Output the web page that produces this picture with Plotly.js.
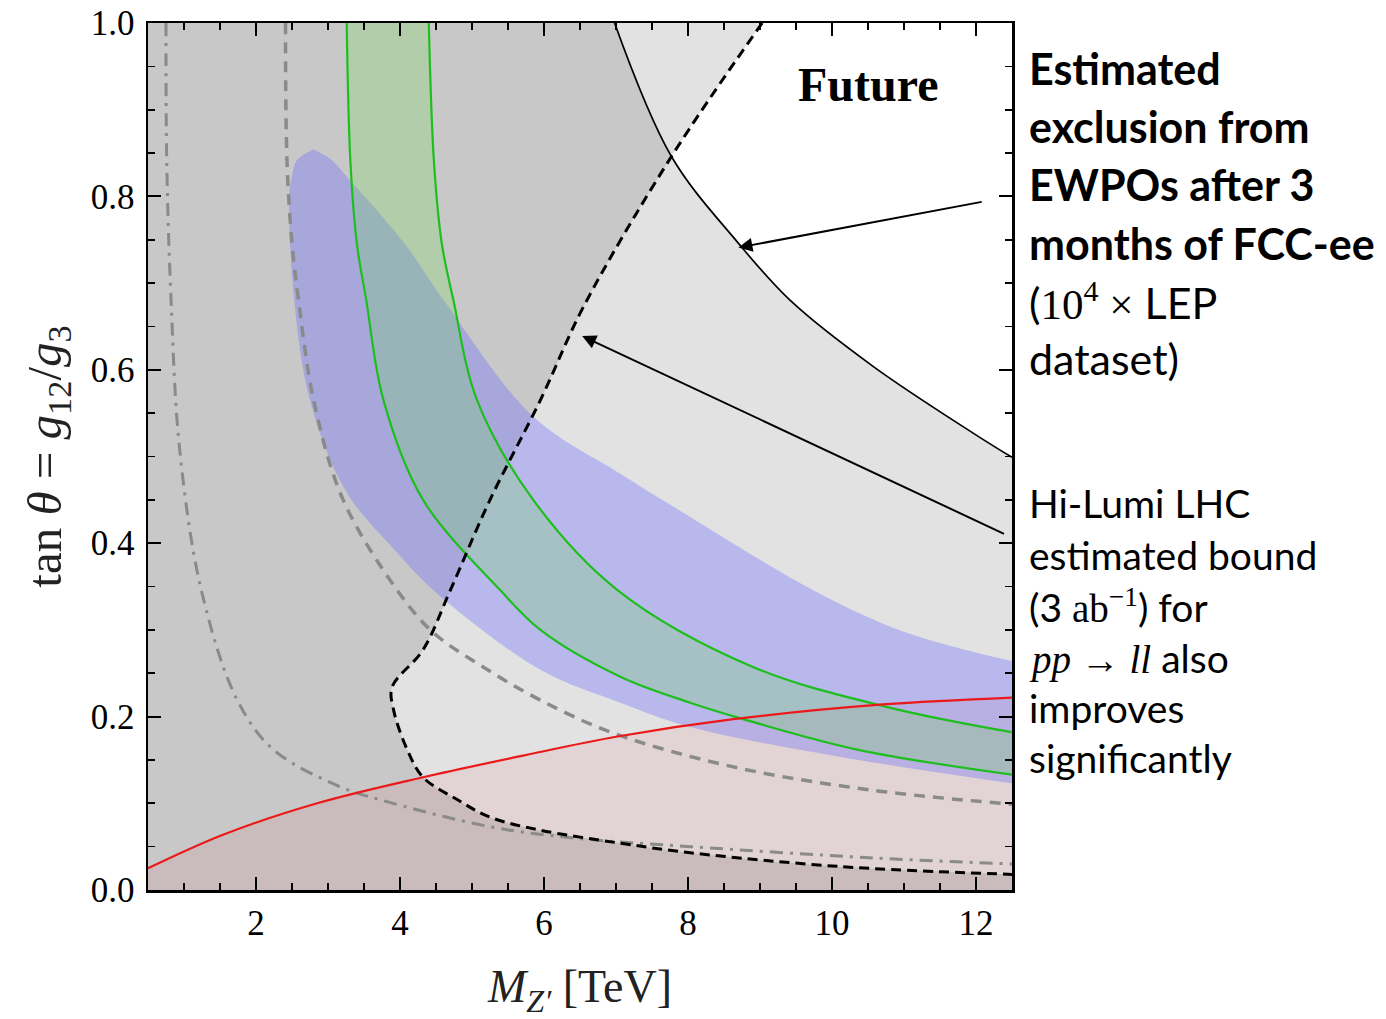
<!DOCTYPE html>
<html><head><meta charset="utf-8">
<script src="https://cdn.plot.ly/plotly-3.0.1.min.js"></script>
<style>body{margin:0;background:#fff}#plot{width:1386px;height:1019px}</style>
</head><body><div id="plot"></div>
<script>
// ---- axis ranges / ticks ----
const xRange = [0.5, 12.5];
const yRange = [0, 1];
const xTicks = [2, 4, 6, 8, 10, 12];
const yTicks = [0, 0.2, 0.4, 0.6, 0.8, 1.0];
const yTickText = ['0.0', '0.2', '0.4', '0.6', '0.8', '1.0'];

// ---- FCC-ee future EWPO bound (solid black) ----
const fccX = [6.98, 7.77, 8.69, 9.42, 10.57, 11.96, 12.5];
const fccY = [1.0, 0.846, 0.747, 0.680, 0.604, 0.527, 0.499];

// ---- Hi-Lumi LHC bound (black dashed) ----
const hlX = [9.03, 7.77, 6.55, 5.95, 5.25, 4.70, 4.32, 3.89, 3.91, 4.10, 4.32, 4.80, 5.25, 5.95, 7.06, 8.03, 10.12, 12.5];
const hlY = [1.0, 0.846, 0.673, 0.565, 0.45, 0.346, 0.277, 0.234, 0.208, 0.162, 0.130, 0.104, 0.084, 0.069, 0.054, 0.043, 0.027, 0.018];

// ---- gray dashed ----
const gdX = [2.41, 2.43, 2.50, 2.59, 2.80, 3.21, 3.96, 4.46, 5.16, 5.95, 6.96, 8.63, 10.57, 12.5];
const gdY = [1.0, 0.842, 0.746, 0.681, 0.565, 0.45, 0.346, 0.297, 0.257, 0.219, 0.181, 0.142, 0.115, 0.099];

// ---- gray dash-dot ----
const ddX = [0.75, 0.76, 0.82, 0.94, 1.24, 1.74, 2.24, 3.17, 3.73, 5.25, 6.41, 8.03, 10.57, 12.5];
const ddY = [1.0, 0.842, 0.681, 0.508, 0.346, 0.219, 0.162, 0.119, 0.104, 0.073, 0.060, 0.050, 0.037, 0.030];

// ---- red bound ----
const redX = [0.5, 1.55, 2.85, 4.32, 5.71, 7.02, 8.63, 10.71, 12.5];
const redY = [0.025, 0.064, 0.100, 0.130, 0.155, 0.177, 0.197, 0.214, 0.222];

// ---- green band ----
const glX = [3.26, 3.31, 3.40, 3.53, 3.77, 4.32, 5.39, 5.95, 7.06, 8.03, 8.73, 10.35, 12.5];
const glY = [1.0, 0.842, 0.746, 0.681, 0.565, 0.45, 0.346, 0.30, 0.246, 0.216, 0.198, 0.162, 0.133];
const grX = [4.40, 4.47, 4.58, 4.74, 5.07, 5.85, 7.02, 8.91, 10.77, 12.5];
const grY = [1.0, 0.842, 0.746, 0.681, 0.565, 0.45, 0.346, 0.257, 0.211, 0.182];

// ---- blue band (upper edge, and left/lower edge from the tip) ----
const blueUpX = [2.80, 3.05, 3.26, 4.05, 4.60, 5.85, 7.06, 7.80, 9.76, 11.0, 12.5];
const blueUpY = [0.854, 0.842, 0.823, 0.747, 0.681, 0.546, 0.480, 0.442, 0.345, 0.298, 0.264];
const blueLoX = [2.80, 2.57, 2.50, 2.46, 2.53, 2.75, 3.25, 3.95, 4.50, 5.95, 7.06, 8.03, 10.12, 12.5];
const blueLoY = [0.854, 0.842, 0.823, 0.80, 0.681, 0.565, 0.46, 0.390, 0.343, 0.254, 0.216, 0.188, 0.1535, 0.123];

// ---- arrows (tail -> tip) ----
const arrowTailX = [12.10, 12.41];
const arrowTailY = [0.794, 0.410];
const arrowTipX = [8.70, 6.53];
const arrowTipY = [0.741, 0.639];

// ---- text ----
const serif = 'Liberation Serif, Times New Roman, serif';
const sans = 'Lato, Carlito, Calibri, sans-serif';
const topLines = [
  '<b>Estimated</b>',
  '<b>exclusion from</b>',
  '<b>EWPOs after 3</b>',
  '<b>months of FCC-ee</b>',
  '(<span style="font-family:Liberation Serif">10<sup>4</sup> ×</span> LEP',
  'dataset)'
];
const botLines = [
  'Hi-Lumi LHC',
  'estimated bound',
  '(3 <span style="font-family:Liberation Serif">ab<sup>−1</sup></span>) for',
  '<span style="font-family:Liberation Serif"><i>pp</i> → <i>ll</i></span> also',
  'improves',
  'significantly'
];

const GRAY = 'rgba(0,0,0,0.115)';
const traces = [];
const base = {hoverinfo: 'skip', showlegend: false, type: 'scatter'};

// gray exclusion fills
traces.push(Object.assign({}, base, {x: fccX, y: fccY, mode: 'lines', line: {width: 0, shape: 'spline'}, fill: 'tozeroy', fillcolor: GRAY}));
traces.push(Object.assign({}, base, {x: hlX, y: hlY, mode: 'lines', line: {width: 0, shape: 'spline'}, fill: 'tozerox', fillcolor: GRAY}));
// red fill
traces.push(Object.assign({}, base, {x: redX, y: redY, mode: 'lines', line: {width: 0, shape: 'spline'}, fill: 'tozeroy', fillcolor: 'rgba(230,0,0,0.06)'}));
// blue band
traces.push(Object.assign({}, base, {x: blueUpX, y: blueUpY, mode: 'lines', line: {width: 0, shape: 'spline'}}));
traces.push(Object.assign({}, base, {x: blueLoX, y: blueLoY, mode: 'lines', line: {width: 0, shape: 'spline'}, fill: 'tonexty', fillcolor: 'rgba(105,105,255,0.35)'}));
// gray curves
traces.push(Object.assign({}, base, {x: ddX, y: ddY, mode: 'lines', line: {color: '#8a8a8a', width: 3, dash: '13px,7px,3px,7px', shape: 'spline'}}));
traces.push(Object.assign({}, base, {x: gdX, y: gdY, mode: 'lines', line: {color: '#8a8a8a', width: 3.5, dash: '11px,8px', shape: 'spline'}}));
// green band
traces.push(Object.assign({}, base, {x: glX, y: glY, mode: 'lines', line: {color: 'rgb(30,190,30)', width: 2.2, shape: 'spline'}}));
traces.push(Object.assign({}, base, {x: grX, y: grY, mode: 'lines', line: {color: 'rgb(30,190,30)', width: 2.2, shape: 'spline'}, fill: 'tonexty', fillcolor: 'rgba(110,220,80,0.25)'}));
// red line
traces.push(Object.assign({}, base, {x: redX, y: redY, mode: 'lines', line: {color: 'rgb(235,25,25)', width: 2.2, shape: 'spline'}}));
// black curves
traces.push(Object.assign({}, base, {x: hlX, y: hlY, mode: 'lines', line: {color: 'black', width: 3, dash: '10px,6px', shape: 'spline'}}));
traces.push(Object.assign({}, base, {x: fccX, y: fccY, mode: 'lines', line: {color: 'black', width: 1.7, shape: 'spline'}}));

const L = 148, R = 374, T = 23, B = 129;
const plotH = 1019 - T - B;
function py2paper(py) { return (1019 - B - py) / plotH; }
const textX = (1027 - L) / (1386 - L - R);

const annotations = [];
for (let i = 0; i < arrowTailX.length; i++) {
  annotations.push({x: arrowTipX[i], y: arrowTipY[i], ax: arrowTailX[i], ay: arrowTailY[i],
    xref: 'x', yref: 'y', axref: 'x', ayref: 'y', text: '', showarrow: true,
    arrowhead: 2, arrowsize: 1.4, arrowwidth: 2, arrowcolor: 'black'});
}
annotations.push({x: 10.5, y: 0.929, xref: 'x', yref: 'y', text: '<b>Future</b>', showarrow: false,
  font: {family: serif, size: 48, color: 'black'}});
const topBase = [85, 143, 201, 260, 318, 375];
topLines.forEach((t, i) => annotations.push({x: textX, y: py2paper(topBase[i] - 16.5), xref: 'paper', yref: 'paper',
  xanchor: 'left', yanchor: 'middle', text: t, showarrow: false, font: {family: sans, size: 43, color: 'black'}}));
const botBase = [518, 570, 621, 673, 723, 773];
botLines.forEach((t, i) => annotations.push({x: textX, y: py2paper(botBase[i] - 15), xref: 'paper', yref: 'paper',
  xanchor: 'left', yanchor: 'middle', text: t, showarrow: false, font: {family: sans, size: 39, color: 'black'}}));

const axisCommon = {
  showline: true, linewidth: 2.5, linecolor: 'black', mirror: 'ticks',
  ticks: 'inside', ticklen: 13, tickwidth: 2, tickcolor: 'black',
  showgrid: false, zeroline: false,
  tickfont: {family: serif, size: 35, color: 'black'}
};

const layout = {
  width: 1386, height: 1019,
  margin: {l: L, r: R, t: T, b: B, pad: 0},
  paper_bgcolor: 'white', plot_bgcolor: 'white',
  xaxis: Object.assign({}, axisCommon, {
    range: xRange, tickvals: xTicks, ticklabelstandoff: 0,
    minor: {dtick: 0.5, tick0: 0.5, ticks: 'inside', ticklen: 7, tickwidth: 1.6, tickcolor: 'black'},
    title: {text: '<i>M</i><sub><i>Z′</i></sub> [TeV]', font: {family: serif, size: 46, color: '#222'}, standoff: 40}
  }),
  yaxis: Object.assign({}, axisCommon, {
    range: yRange, tickvals: yTicks, ticktext: yTickText, ticklabelstandoff: 4,
    minor: {dtick: 0.05, tick0: 0, ticks: 'inside', ticklen: 7, tickwidth: 1.6, tickcolor: 'black'},
    title: {text: 'tan <i>θ</i> = <i>g</i><sub>12</sub>/<i>g</i><sub>3</sub>', font: {family: serif, size: 49, color: '#222'}, standoff: 14}
  }),
  shapes: [
    {type: 'rect', xref: 'x', yref: 'y', x0: xRange[0], x1: fccX[0], y0: yRange[0], y1: yRange[1], fillcolor: GRAY, line: {width: 0}, layer: 'below'},
    {type: 'rect', xref: 'x', yref: 'y', x0: xRange[0], x1: xRange[1], y0: yRange[0], y1: hlY[hlY.length - 1], fillcolor: GRAY, line: {width: 0}, layer: 'below'}
  ],
  annotations: annotations
};

Plotly.newPlot('plot', traces, layout, {staticPlot: true, displayModeBar: false});
</script>
</body></html>
